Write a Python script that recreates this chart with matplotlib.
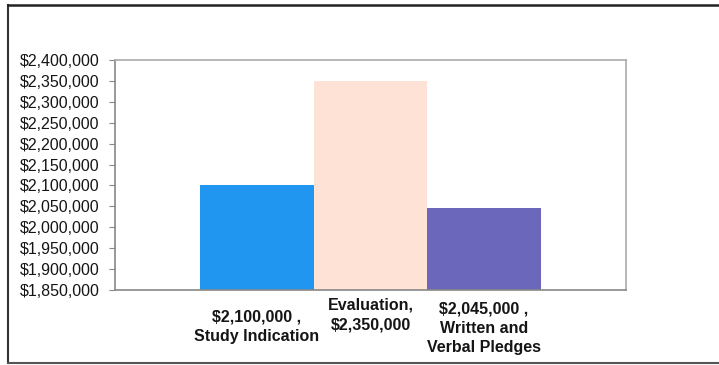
import matplotlib.pyplot as plt
from matplotlib.lines import Line2D
from matplotlib.ticker import FuncFormatter
from matplotlib.transforms import blended_transform_factory

plt.rcParams['font.family'] = ['Liberation Sans', 'DejaVu Sans']

# data
labels = ["$2,100,000 ,\nStudy Indication", "Evaluation,\n$2,350,000", "$2,045,000 ,\nWritten and\nVerbal Pledges"]
values = [2100000, 2350000, 2045000]
colors = ["#2196F0", "#FFE2D6", "#6B67BA"]
y_ticks = list(range(1850000, 2400001, 50000))

W, H = 719, 365
fig = plt.figure(figsize=(W / 100, H / 100), dpi=100)
ax = fig.add_axes([115 / W, 1 - 290 / H, 511 / W, 230 / H])

# three series side by side in one category
x = [0, 1, 2]
ax.bar(x, values, width=1.0, color=colors)
ax.set_xlim(-1.25, 3.25)
ax.set_ylim(1850000, 2400000)
ax.set_yticks(y_ticks)
ax.yaxis.set_major_formatter(FuncFormatter(lambda v, p: "${:,.0f}".format(v)))
ax.tick_params(axis='y', labelsize=11.5, length=4, color='#888888', pad=7, labelcolor='#151515')
ax.set_xticks([])
for name, s in ax.spines.items():
    s.set_color('#888888' if name in ('left', 'bottom') else '#aaaaaa')
    s.set_linewidth(1.2)

# data labels under the bars (top position in pixels from the figure top)
label_tops = [310, 298, 302]
tr = blended_transform_factory(ax.transData, fig.transFigure)
for xi, lab, top in zip(x, labels, label_tops):
    ax.text(xi, 1 - top / H, lab, transform=tr, ha='center', va='top',
            fontsize=11.5, fontweight='bold', color='#151515', linespacing=1.35)

# outer frame (left, top, bottom)
fig.add_artist(Line2D([7.5 / W, 7.5 / W], [1 - 5 / H, 1 - 362.5 / H], color='#333333', lw=1.5))
fig.add_artist(Line2D([7.5 / W, 1], [1 - 5 / H, 1 - 5 / H], color='#222222', lw=1.8))
fig.add_artist(Line2D([7.5 / W, 1], [1 - 362.5 / H, 1 - 362.5 / H], color='#555555', lw=1.5))

fig.savefig("out.png", dpi=100)
